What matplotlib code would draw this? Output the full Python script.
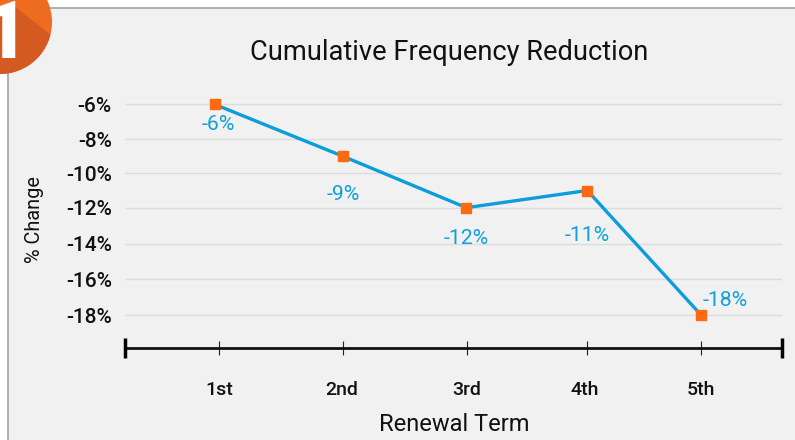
import matplotlib
matplotlib.use('Agg')
import matplotlib.pyplot as plt
import matplotlib.transforms as mtrans
import numpy as np
from matplotlib.patches import Circle, Polygon, Rectangle

plt.rcParams['font.family'] = ['Roboto', 'DejaVu Sans']

terms = ['1st', '2nd', '3rd', '4th', '5th']
term_position = [0.0, 1.0, 2.0, 2.97, 3.89]
point_position = [-0.036, 1.0, 1.995, 2.97, 3.89]
change = [-6, -9, -12, -11, -18]
value_labels = ['-6%', '-9%', '-12%', '-11%', '-18%']
y_ticks = [-6, -8, -10, -12, -14, -16, -18]
y_tick_labels = ['-6%', '-8%', '-10%', '-12%', '-14%', '-16%', '-18%']

W, H = 795, 440
fig = plt.figure(figsize=(W / 100, H / 100), dpi=100, facecolor='white')

# panel layer, in pixels
bg = fig.add_axes([0, 0, 1, 1], zorder=0)
bg.set_xlim(0, W)
bg.set_ylim(H, 0)
bg.axis('off')
bg.add_patch(Rectangle((7.5, 8.5), W, H, fc='#f1f1f1', ec='#a8a8a8', lw=1.3))

# chart axes
L, R, T, B = 125, 782, 90, 348
ax = fig.add_axes([L / W, 1 - B / H, (R - L) / W, (B - T) / H], zorder=1)
ax.patch.set_alpha(0)

# the reference's value axis is very slightly uneven: follow its gridline spacing
scale_vals = np.array([-24, -18, -16, -14, -12, -10, -8, -6, 0], dtype=float)
scale_pos = -np.array([423.3, 315.3, 279.3, 243.7, 207.7, 173.3, 139.3, 104.3, 0.0])
ax.set_yscale('function', functions=(lambda v: np.interp(v, scale_vals, scale_pos),
                                     lambda p: np.interp(p, scale_pos, scale_vals)))
ax.set_ylim(np.interp(-B, scale_pos, scale_vals), np.interp(-T, scale_pos, scale_vals))
px_per_x = 124
ax.set_xlim(-(219 - L) / px_per_x, (R - 219) / px_per_x)

for s in ['top', 'right', 'left']:
    ax.spines[s].set_visible(False)
ax.spines['bottom'].set_linewidth(2.0)
ax.spines['bottom'].set_color('#111111')
ax.yaxis.grid(True, color='#dcdcdc', lw=1)
ax.set_axisbelow(True)
ax.set_yticks(y_ticks, y_tick_labels, fontsize=15, color='#111111', fontweight='medium')
ax.yaxis.set_minor_locator(matplotlib.ticker.NullLocator())
ax.tick_params(axis='y', length=0, pad=9.5)
ax.set_xticks(term_position, terms, fontsize=14, color='#111111', fontweight='medium')
ax.tick_params(axis='x', direction='inout', length=9.5, width=0.8, color='#222222', pad=19)
for lab, dx in zip(ax.get_xticklabels(), [0, -1, 0, -3, 0]):
    lab.set_transform(lab.get_transform() + mtrans.ScaledTranslation(dx / 100, 0, fig.dpi_scale_trans))

ax.plot(point_position, change, color='#0d9ddb', lw=2.4, marker='s', ms=6.5,
        mfc='#fb6a12', mec='#fb6a12', clip_on=False, zorder=3)

offsets = [(4, -20), (0, -38), (0, -31), (0, -45), (24, 15)]
for x, y, t, o in zip(point_position, change, value_labels, offsets):
    ax.annotate(t, (x, y), xytext=o, textcoords='offset pixels', ha='center', va='center',
                fontsize=15.3, color='#12a0dc')

# axis end caps
for xa in (0, 1):
    ax.plot([xa, xa], [-0.04, 0.04], transform=ax.transAxes, color='#000000',
            lw=2.5, clip_on=False, solid_capstyle='butt', zorder=4)

fig.text(34 / W, 1 - 220 / H, '% Change', fontsize=14.3, color='#111111', rotation=90,
         ha='center', va='center')
fig.text(454 / W, 1 - 424 / H, 'Renewal Term', fontsize=17, color='#111111', ha='center', va='center')
fig.text(449 / W, 1 - 53 / H, 'Cumulative Frequency Reduction', fontsize=19.6, color='#111111', ha='center', va='center')

# badge
top = fig.add_axes([0, 0, 1, 1], zorder=2)
top.set_xlim(0, W)
top.set_ylim(H, 0)
top.axis('off')
c = Circle((0, 22), 52, fc='#ee6c20', ec='none')
top.add_patch(c)
w = Polygon([(15, 7), (55, 38), (55, 80), (-5, 80), (-5, 7)], fc='#d45a22', ec='none')
top.add_patch(w)
w.set_clip_path(c)
top.text(28, 58, '1', fontsize=57, fontweight='black', color='white', ha='right', va='baseline')

fig.savefig('out.png', dpi=100, facecolor='white')
